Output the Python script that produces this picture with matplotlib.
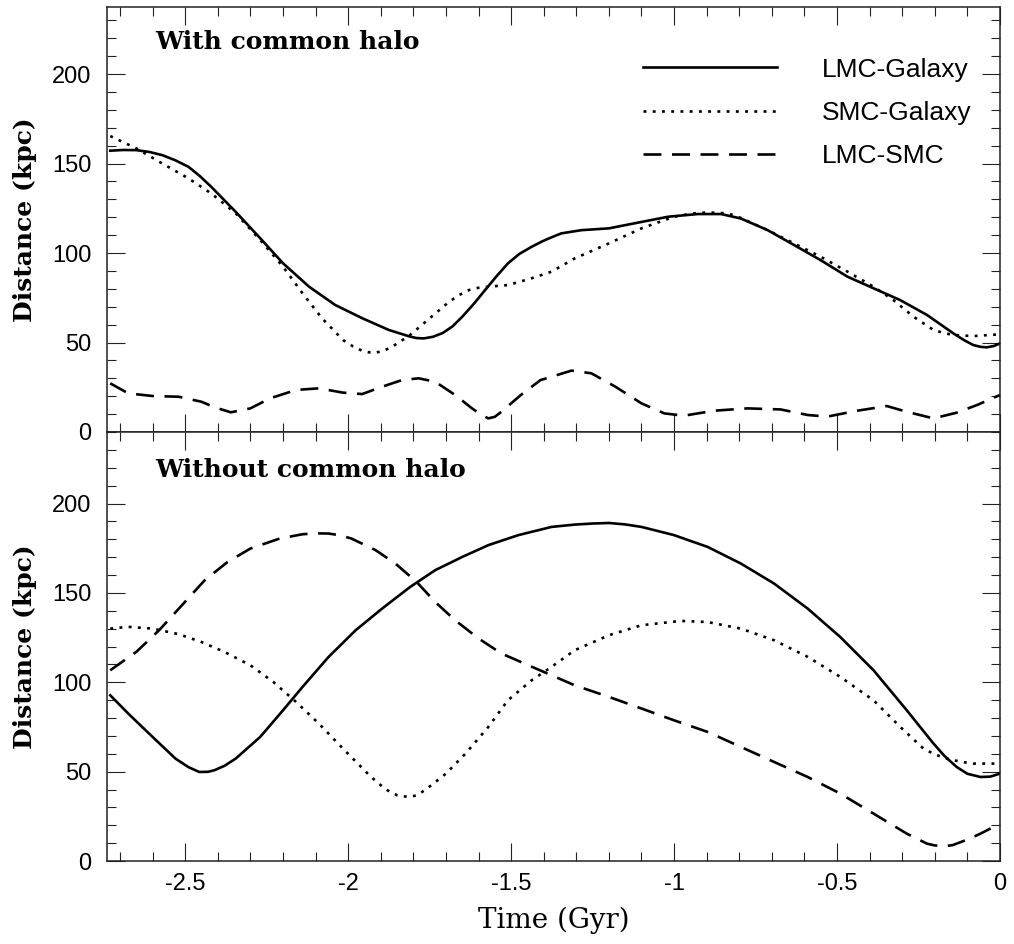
import matplotlib
matplotlib.use("Agg")
import matplotlib.pyplot as plt
from matplotlib.ticker import MultipleLocator

# ---------------- data ----------------
# Top panel: with common halo
t_lmc_gal_a = [-2.73, -2.69, -2.65, -2.61, -2.57, -2.53, -2.49, -2.455, -2.42, -2.345, -2.27, -2.20,
               -2.12, -2.04, -1.957, -1.875, -1.84, -1.81, -1.79, -1.768, -1.74, -1.71, -1.68, -1.65,
               -1.615, -1.58, -1.545, -1.51, -1.475, -1.437, -1.405, -1.376, -1.346, -1.284, -1.20,
               -1.122, -1.018, -0.927, -0.856, -0.795, -0.713, -0.632, -0.55, -0.468, -0.388, -0.306,
               -0.224, -0.143, -0.11, -0.082, -0.06, -0.041, -0.02, 0.0]
d_lmc_gal_a = [157.2, 157.6, 157.5, 156.5, 154.7, 151.8, 148.2, 143.0, 137.0, 123.0, 108.3, 94.3,
               81.2, 71.0, 63.6, 57.0, 55.0, 53.3, 52.5, 52.3, 53.2, 55.3, 59.0, 64.4,
               71.5, 79.3, 87.0, 94.2, 99.5, 103.5, 106.5, 108.8, 111.0, 112.8, 113.8,
               116.6, 120.3, 121.8, 121.8, 119.3, 112.8, 104.5, 96.0, 86.8, 80.3, 73.7,
               65.4, 55.1, 51.3, 48.6, 47.6, 47.3, 48.0, 49.5]

t_smc_gal_a = [-2.73, -2.65, -2.57, -2.49, -2.42, -2.345, -2.27, -2.20, -2.14, -2.08, -2.016, -1.985,
               -1.957, -1.935, -1.916, -1.89, -1.865, -1.84, -1.81, -1.75, -1.69, -1.66, -1.63, -1.60,
               -1.57, -1.51, -1.437, -1.376, -1.305, -1.20, -1.10, -1.0, -0.95, -0.897, -0.85, -0.815,
               -0.713, -0.632, -0.55, -0.468, -0.388, -0.327, -0.265, -0.204, -0.17, -0.143, -0.082,
               0.0]
d_smc_gal_a = [165.4, 158.5, 150.0, 141.7, 133.3, 122.2, 107.3, 92.4, 77.5, 63.5, 51.4, 47.8,
               45.4, 44.5, 44.3, 45.5, 47.7, 50.6, 54.2, 63.5, 72.8, 76.5, 79.3, 80.6,
               81.2, 82.1, 85.9, 89.6, 97.0, 105.4, 113.8, 120.3, 122.0, 122.7, 122.3, 121.2,
               112.8, 105.4, 97.9, 89.6, 81.2, 73.7, 64.4, 57.0, 55.2, 54.2, 53.6,
               54.6]

t_lmc_smc_a = [-2.73, -2.675, -2.60, -2.52, -2.45, -2.41, -2.36, -2.30, -2.24, -2.16, -2.09, -2.016,
               -1.957, -1.896, -1.835, -1.784, -1.733, -1.672, -1.62, -1.59, -1.57, -1.55, -1.53,
               -1.47, -1.41, -1.315, -1.254, -1.18, -1.10, -1.03, -0.97, -0.877, -0.775, -0.673,
               -0.59, -0.53, -0.438, -0.347, -0.286, -0.204, -0.133, -0.07, 0.0]
d_lmc_smc_a = [27.2, 21.6, 20.1, 19.7, 16.9, 13.8, 11.0, 13.2, 18.8, 23.5, 24.4, 22.0,
               21.2, 25.3, 29.0, 30.0, 28.1, 20.7, 13.2, 9.5, 7.6, 8.5, 11.3,
               20.7, 29.0, 34.3, 32.8, 25.3, 16.0, 10.4, 9.1, 11.9, 13.2, 12.6,
               9.5, 8.6, 11.9, 14.5, 11.3, 7.6, 10.8, 15.1, 20.7]

# Bottom panel: without common halo
t_lmc_gal_b = [-2.73, -2.675, -2.60, -2.53, -2.49, -2.457, -2.43, -2.41, -2.38, -2.345, -2.27, -2.20,
               -2.14, -2.06, -1.977, -1.896, -1.81, -1.733, -1.65, -1.57, -1.478, -1.376, -1.305,
               -1.25, -1.20, -1.15, -1.10, -1.0, -0.897, -0.795, -0.693, -0.59, -0.49, -0.388,
               -0.286, -0.204, -0.17, -0.133, -0.10, -0.06, -0.03, 0.0]
d_lmc_gal_b = [92.7, 82.5, 69.4, 57.3, 52.5, 49.8, 49.9, 50.8, 53.2, 57.3, 69.4, 84.3,
               97.4, 114.2, 129.1, 141.2, 153.3, 162.7, 170.1, 176.7, 182.3, 186.9, 188.2,
               188.8, 189.1, 188.3, 186.9, 182.3, 175.7, 166.4, 155.2, 141.2, 125.3, 106.7,
               84.3, 65.7, 58.7, 52.6, 48.8, 47.0, 47.2, 48.9]

t_smc_gal_b = [-2.73, -2.675, -2.60, -2.52, -2.45, -2.38, -2.30, -2.23, -2.16, -2.09, -2.016, -1.94,
               -1.91, -1.88, -1.85, -1.815, -1.79, -1.765, -1.735, -1.70, -1.64, -1.57, -1.51,
               -1.437, -1.376, -1.305, -1.20, -1.10, -0.98, -0.897, -0.795, -0.693, -0.59, -0.49,
               -0.388, -0.306, -0.235, -0.20, -0.163, -0.12, -0.082, 0.0]
d_smc_gal_b = [130.0, 131.0, 130.0, 126.9, 122.5, 117.0, 109.5, 100.2, 89.0, 76.9, 62.9, 48.9,
               43.8, 39.6, 36.8, 35.8, 36.7, 39.6, 43.8, 48.9, 60.1, 75.0, 89.9,
               101.1, 108.6, 117.9, 126.3, 131.9, 134.3, 133.7, 130.0, 123.5, 114.2, 103.0,
               89.9, 75.0, 62.9, 59.6, 57.3, 55.5, 54.5, 54.5]

t_lmc_smc_b = [-2.73, -2.65, -2.58, -2.51, -2.44, -2.37, -2.30, -2.21, -2.14, -2.10, -2.06, -2.025,
               -1.99, -1.916, -1.855, -1.79, -1.733, -1.672, -1.60, -1.53, -1.447, -1.376, -1.305,
               -1.20, -1.10, -1.0, -0.897, -0.795, -0.693, -0.59, -0.49, -0.388, -0.286, -0.224,
               -0.20, -0.173, -0.145, -0.12, -0.09, -0.06, 0.0]
d_lmc_smc_b = [106.7, 117.0, 129.1, 143.1, 157.1, 167.3, 174.8, 180.4, 182.8, 183.3, 183.2, 182.2,
               180.4, 173.9, 166.4, 156.1, 144.9, 134.7, 124.5, 116.1, 109.5, 103.9, 98.3,
               91.8, 85.3, 78.7, 72.2, 63.8, 55.4, 47.0, 37.7, 26.5, 15.3, 9.7,
               8.7, 8.2, 8.9, 10.6, 12.8, 15.3, 20.9]

series_labels = ["LMC-Galaxy", "SMC-Galaxy", "LMC-SMC"]
panel_titles = ["With common halo", "Without common halo"]
x_ticks = [-2.5, -2.0, -1.5, -1.0, -0.5, 0.0]
x_tick_labels = ["-2.5", "-2", "-1.5", "-1", "-0.5", "0"]
y_ticks = [0, 50, 100, 150, 200]

# ---------------- figure ----------------
W, H = 1014, 944
fig = plt.figure(figsize=(W / 100, H / 100), dpi=100)
left, right = 107, 1000
ax1 = fig.add_axes([left / W, (H - 432) / H, (right - left) / W, (432 - 7) / H])
ax2 = fig.add_axes([left / W, (H - 861) / H, (right - left) / W, (861 - 432) / H])

lw = 1.9
styles = [dict(linestyle="-"),
          dict(linestyle=(0, (1.1, 2.4))),
          dict(linestyle=(0, (6.8, 4.0)))]

serif_bold = dict(family="DejaVu Serif", fontweight="bold")

def setup(ax, ymax):
    ax.set_xlim(-2.74, 0.0)
    ax.set_ylim(0, ymax)
    ax.xaxis.set_major_locator(MultipleLocator(0.5))
    ax.xaxis.set_minor_locator(MultipleLocator(0.1))
    ax.set_yticks(y_ticks)
    ax.yaxis.set_minor_locator(MultipleLocator(10))
    ax.tick_params(which="both", direction="in", top=True, right=True, width=0.8, color="#222222")
    ax.tick_params(which="major", length=13)
    ax.tick_params(which="minor", length=6.5)
    ax.tick_params(axis="y", labelsize=17, pad=11)
    ax.tick_params(axis="x", labelsize=17, pad=9)
    for s in ax.spines.values():
        s.set_linewidth(1.1)
        s.set_color("#222222")
    for lab in ax.get_xticklabels() + ax.get_yticklabels():
        lab.set_family("Liberation Sans")
    ax.set_ylabel("Distance (kpc)", fontsize=18, labelpad=11, **serif_bold)

setup(ax1, 237.5)
setup(ax2, 240)

ax1.plot(t_lmc_gal_a, d_lmc_gal_a, color="black", lw=lw, label=series_labels[0], **styles[0])
ax1.plot(t_smc_gal_a, d_smc_gal_a, color="black", lw=lw, label=series_labels[1], **styles[1])
ax1.plot(t_lmc_smc_a, d_lmc_smc_a, color="black", lw=lw, label=series_labels[2], **styles[2])

ax2.plot(t_lmc_gal_b, d_lmc_gal_b, color="black", lw=lw, **styles[0])
ax2.plot(t_smc_gal_b, d_smc_gal_b, color="black", lw=lw, **styles[1])
ax2.plot(t_lmc_smc_b, d_lmc_smc_b, color="black", lw=lw, **styles[2])

ax1.set_xticklabels([])
ax2.set_xticks(x_ticks)
ax2.set_xticklabels(x_tick_labels, family="Liberation Sans")
ax2.set_xlabel("Time (Gyr)", family="DejaVu Serif", fontsize=20, labelpad=8)

ax1.text(0.054, 0.900, panel_titles[0], transform=ax1.transAxes, fontsize=18,
         va="baseline", ha="left", **serif_bold)
ax2.text(0.054, 0.895, panel_titles[1], transform=ax2.transAxes, fontsize=18,
         va="baseline", ha="left", **serif_bold)

leg = ax1.legend(loc="upper left", bbox_to_anchor=(0.600, 0.881), frameon=False,
                 prop={"family": "Liberation Sans", "size": 19},
                 handlelength=5.08, handletextpad=1.7, labelspacing=0.73,
                 borderpad=0, borderaxespad=0)

fig.savefig("out.png", dpi=100)
